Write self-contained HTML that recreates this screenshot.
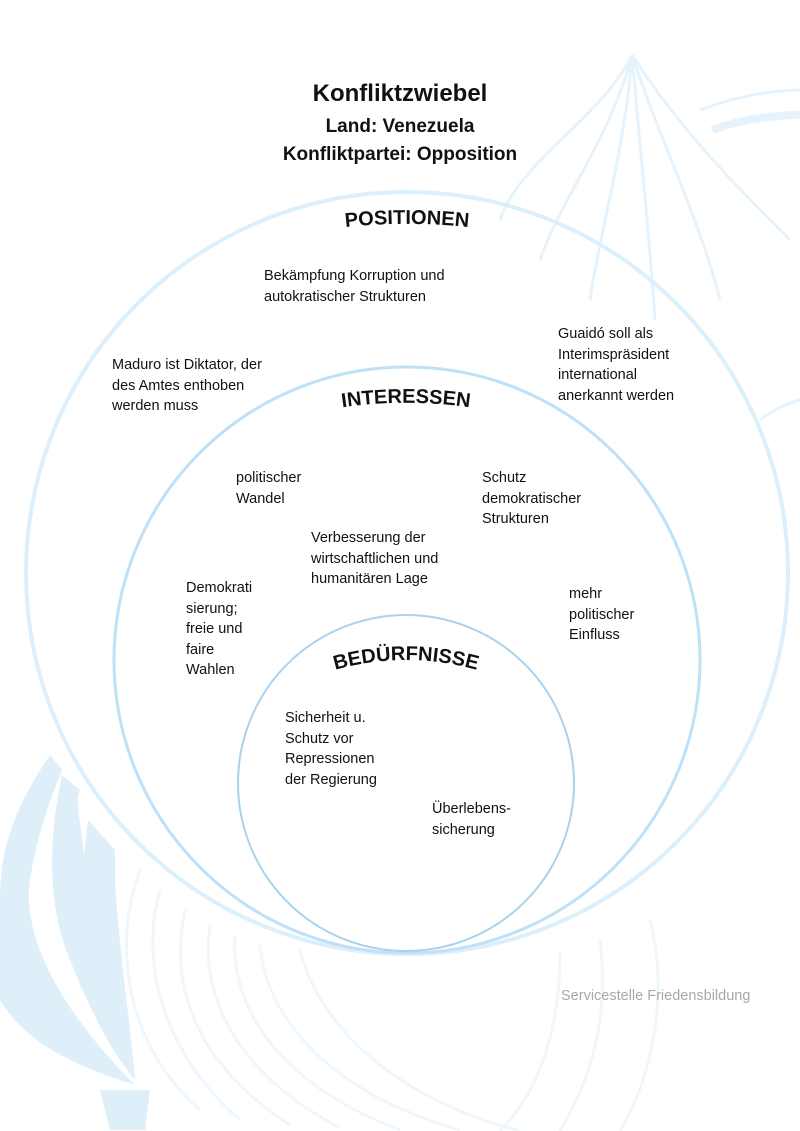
<!DOCTYPE html>
<html><head><meta charset="utf-8"><style>
html,body{margin:0;padding:0;background:#fff}
body{width:800px;height:1131px;position:relative;overflow:hidden;font-family:"Liberation Sans",sans-serif;color:#111}
.t{position:absolute;font-size:14.5px;line-height:20.5px;white-space:nowrap}
.h{position:absolute;left:0;width:800px;text-align:center;font-weight:bold}
svg{position:absolute;left:0;top:0}
</style></head><body>
<svg width="800" height="1131" viewBox="0 0 800 1131">
 <g fill="none" stroke="#e6f3fc" stroke-width="3">
  <path d="M632 55 C600 120 520 160 500 220"/>
  <path d="M632 55 C610 140 560 200 540 260"/>
  <path d="M632 55 C625 150 600 230 590 300"/>
  <path d="M632 55 C640 150 650 240 655 320"/>
  <path d="M632 55 C660 140 700 220 720 300"/>
  <path d="M632 55 C680 130 740 190 790 240"/>
  <path d="M700 110 A300 300 0 0 1 800 90"/>
  <path d="M712 130 A260 260 0 0 1 800 115" stroke-width="8"/>
  <path d="M760 420 A120 120 0 0 1 800 400"/>
 </g>
 <g fill="#dfeffa">
  <path d="M50 755 C20 800 0 840 0 900 L0 1000 C30 1050 90 1070 135 1085 C80 1030 20 950 30 880 C40 820 55 790 62 770 Z"/>
  <path d="M62 775 C50 830 45 900 70 960 C90 1010 110 1050 135 1080 C110 1000 95 930 85 860 C80 820 75 800 80 790 Z"/>
  <path d="M88 820 C80 880 80 950 105 1010 C115 1040 125 1060 135 1080 C130 1020 120 960 115 880 L115 850 Z"/>
  <path d="M100 1090 L150 1090 L145 1130 L110 1130 Z"/>
 </g>
 <g fill="none" stroke="#eef7fd" stroke-width="3">
  <path d="M140 870 C110 950 130 1050 200 1110"/>
  <path d="M160 890 C140 960 160 1050 240 1120"/>
  <path d="M185 910 C170 980 190 1060 290 1125"/>
  <path d="M210 925 C200 990 230 1070 340 1128"/>
  <path d="M235 935 C230 1000 270 1080 400 1130"/>
  <path d="M260 945 C265 1010 320 1090 460 1130"/>
  <path d="M300 950 C320 1030 400 1100 520 1131"/>
  <path d="M560 950 C560 1030 540 1090 500 1131"/>
  <path d="M600 940 C610 1020 590 1080 560 1131"/>
  <path d="M650 920 C670 1000 650 1080 620 1131"/>
 </g>
 <circle cx="407" cy="573" r="381" fill="none" stroke="#dceffc" stroke-width="4"/>
 <circle cx="407" cy="660" r="293" fill="none" stroke="#bfe1f8" stroke-width="3"/>
 <circle cx="406" cy="783" r="168" fill="none" stroke="#a8d2ee" stroke-width="2"/>
 <defs>
  <path id="p1" d="M287 236 A600 600 0 0 1 527 236"/>
  <path id="p2" d="M290 418 A450 450 0 0 1 522 418"/>
  <path id="p3" d="M311 678 A260 260 0 0 1 501 678"/>
 </defs>
 <g font-family="Liberation Sans,sans-serif" font-weight="bold" font-size="20" fill="#111" text-anchor="middle">
  <text><textPath href="#p1" startOffset="50%">POSITIONEN</textPath></text>
  <text><textPath href="#p2" startOffset="50%">INTERESSEN</textPath></text>
  <text><textPath href="#p3" startOffset="50%">BEDÜRFNISSE</textPath></text>
 </g>
</svg>
<div class="h" style="top:80px;font-size:24px">Konfliktzwiebel</div>
<div class="h" style="top:116px;font-size:19px">Land: Venezuela</div>
<div class="h" style="top:144px;font-size:19px">Konfliktpartei: Opposition</div>
<div class="t" style="left:264px;top:266px">Bekämpfung Korruption und<br>autokratischer Strukturen</div>
<div class="t" style="left:558px;top:324px">Guaidó soll als<br>Interimspräsident<br>international<br>anerkannt werden</div>
<div class="t" style="left:112px;top:355px">Maduro ist Diktator, der<br>des Amtes enthoben<br>werden muss</div>
<div class="t" style="left:236px;top:468px">politischer<br>Wandel</div>
<div class="t" style="left:482px;top:468px">Schutz<br>demokratischer<br>Strukturen</div>
<div class="t" style="left:311px;top:528px">Verbesserung der<br>wirtschaftlichen und<br>humanitären Lage</div>
<div class="t" style="left:186px;top:578px">Demokrati<br>sierung;<br>freie und<br>faire<br>Wahlen</div>
<div class="t" style="left:569px;top:584px">mehr<br>politischer<br>Einfluss</div>
<div class="t" style="left:285px;top:708px">Sicherheit u.<br>Schutz vor<br>Repressionen<br>der Regierung</div>
<div class="t" style="left:432px;top:799px">Überlebens-<br>sicherung</div>
<div class="t" style="left:561px;top:986px;font-size:14.5px;color:#a8a8a8">Servicestelle Friedensbildung</div>
</body></html>
